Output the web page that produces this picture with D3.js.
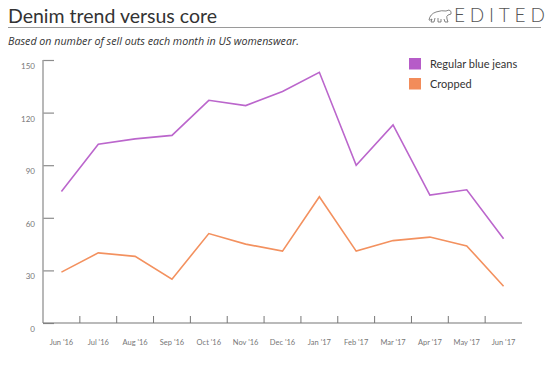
<!doctype html>
<html lang='en'>
<head>
    <meta charset='UTF-8'>
    <title>Denim trend versus core</title>
    <style>
        html, body {
            margin: 0;
            background: #fff;
        }
        svg {
            display: block;
            font-family: Lato, "Open Sans", sans-serif;
        }
    </style>
</head>
<body>
    <script src='https://d3js.org/d3.v7.min.js'></script>
    <div class='chart'></div>
    <script>
        const months = ["Jun '16", "Jul '16", "Aug '16", "Sep '16", "Oct '16", "Nov '16",
            "Dec '16", "Jan '17", "Feb '17", "Mar '17", "Apr '17", "May '17", "Jun '17"];
        const regular = [75, 102, 105, 107, 127, 124, 132, 143, 90, 113, 73, 76, 48];
        const cropped = [29, 40, 38, 25, 51, 45, 41, 72, 41, 47, 49, 44, 21];
        const yTicks = [0, 30, 60, 90, 120, 150];

        const series = [
            {name: 'Regular blue jeans', values: regular, color: '#bb66cc', swatch: '#b65cc8'},
            {name: 'Cropped', values: cropped, color: '#f3915f', swatch: '#f28c5a'}
        ];

        const width = 553, height = 369;
        const plot = {left: 43, right: 522, top: 60, bottom: 323};

        const svg = d3.select('.chart')
            .append('svg')
            .attr('width', width)
            .attr('height', height);

        // header
        svg.append('text')
            .attr('x', 8)
            .attr('y', 23)
            .style('font-size', '19.5px')
            .style('fill', '#333')
            .text('Denim trend versus core');

        svg.append('line')
            .attr('x1', 8).attr('x2', 541)
            .attr('y1', 27.5).attr('y2', 27.5)
            .style('stroke', '#9a9a9a')
            .style('stroke-width', 1.2);

        svg.append('text')
            .attr('x', 454)
            .attr('y', 22)
            .style('font-size', '19px')
            .style('font-weight', 300)
            .style('letter-spacing', '4.8px')
            .style('fill', '#555')
            .text('EDITED');

        // rough polar bear outline next to the logo
        svg.append('path')
            .attr('d', 'M429,20 Q430,14 436,12 Q442,10 446,11 L449,10 Q452,11 451,14 L448,15 Q446,16 447,19 L448,22 L445,22 L444,19 ' +
                'M441,19 L441,22 L438,22 L438,18 M435,18 L434,22 L431,22 L432,19 Q429,21 429,20')
            .style('fill', 'none')
            .style('stroke', '#666')
            .style('stroke-width', 0.8);

        svg.append('text')
            .attr('x', 8)
            .attr('y', 44.5)
            .style('font-family', '"Open Sans", sans-serif')
            .style('font-size', '10.7px')
            .style('font-style', 'italic')
            .style('fill', '#333')
            .text('Based on number of sell outs each month in US womenswear.');

        // scales
        const x = d3.scaleBand()
            .domain(months)
            .range([plot.left, plot.right]);

        const y = d3.scaleLinear()
            .domain([0, 150])
            .range([plot.bottom, plot.top]);

        // y axis
        const yAxis = svg.append('g')
            .attr('transform', 'translate(' + plot.left + ',0)')
            .call(d3.axisRight(y).tickValues(yTicks).tickSize(11).tickFormat(''));
        yAxis.select('.domain').remove();
        yAxis.selectAll('.tick line')
            .style('stroke', '#8c8c8c')
            .style('stroke-width', 1.2);

        svg.append('line')
            .attr('x1', plot.left).attr('x2', plot.left)
            .attr('y1', plot.top).attr('y2', plot.bottom)
            .style('stroke', '#a0a0a0')
            .style('stroke-width', 1.5);

        svg.selectAll('.ylabel')
            .data(yTicks)
            .enter()
            .append('text')
            .classed('ylabel', true)
            .attr('x', 35)
            .attr('y', (d) => y(d) + 9)
            .attr('text-anchor', 'end')
            .style('font-size', '8px')
            .style('fill', '#777')
            .text((d) => d);

        // x axis: ticks on band boundaries, labels on band centres
        const bounds = months.slice(1).map((m) => x(m));
        svg.selectAll('.xtick')
            .data(bounds)
            .enter()
            .append('line')
            .classed('xtick', true)
            .attr('x1', (d) => d).attr('x2', (d) => d)
            .attr('y1', plot.bottom).attr('y2', plot.bottom - 7)
            .style('stroke', '#777')
            .style('stroke-width', 1);

        svg.append('line')
            .attr('x1', plot.left).attr('x2', plot.right)
            .attr('y1', plot.bottom).attr('y2', plot.bottom)
            .style('stroke', '#777')
            .style('stroke-width', 1.2);

        svg.selectAll('.xlabel')
            .data(months)
            .enter()
            .append('text')
            .classed('xlabel', true)
            .attr('x', (d) => x(d) + x.bandwidth() / 2)
            .attr('y', 345)
            .attr('text-anchor', 'middle')
            .style('font-size', '7.5px')
            .style('fill', '#777')
            .text((d) => d);

        // lines
        const line = d3.line()
            .x((d, i) => x(months[i]) + x.bandwidth() / 2)
            .y((d) => y(d));

        svg.selectAll('.series')
            .data(series)
            .enter()
            .append('path')
            .classed('series', true)
            .attr('d', (d) => line(d.values))
            .style('fill', 'none')
            .style('stroke', (d) => d.color)
            .style('stroke-width', 1.6);

        // legend
        const legend = svg.selectAll('.legend')
            .data(series)
            .enter()
            .append('g')
            .classed('legend', true)
            .attr('transform', (d, i) => 'translate(409,' + (58 + i * 20) + ')');

        legend.append('rect')
            .attr('width', 12)
            .attr('height', 11.5)
            .style('fill', (d) => d.swatch);

        legend.append('text')
            .attr('x', 21)
            .attr('y', 10)
            .style('font-size', '11px')
            .style('fill', '#333')
            .text((d) => d.name);
    </script>
</body>
</html>
